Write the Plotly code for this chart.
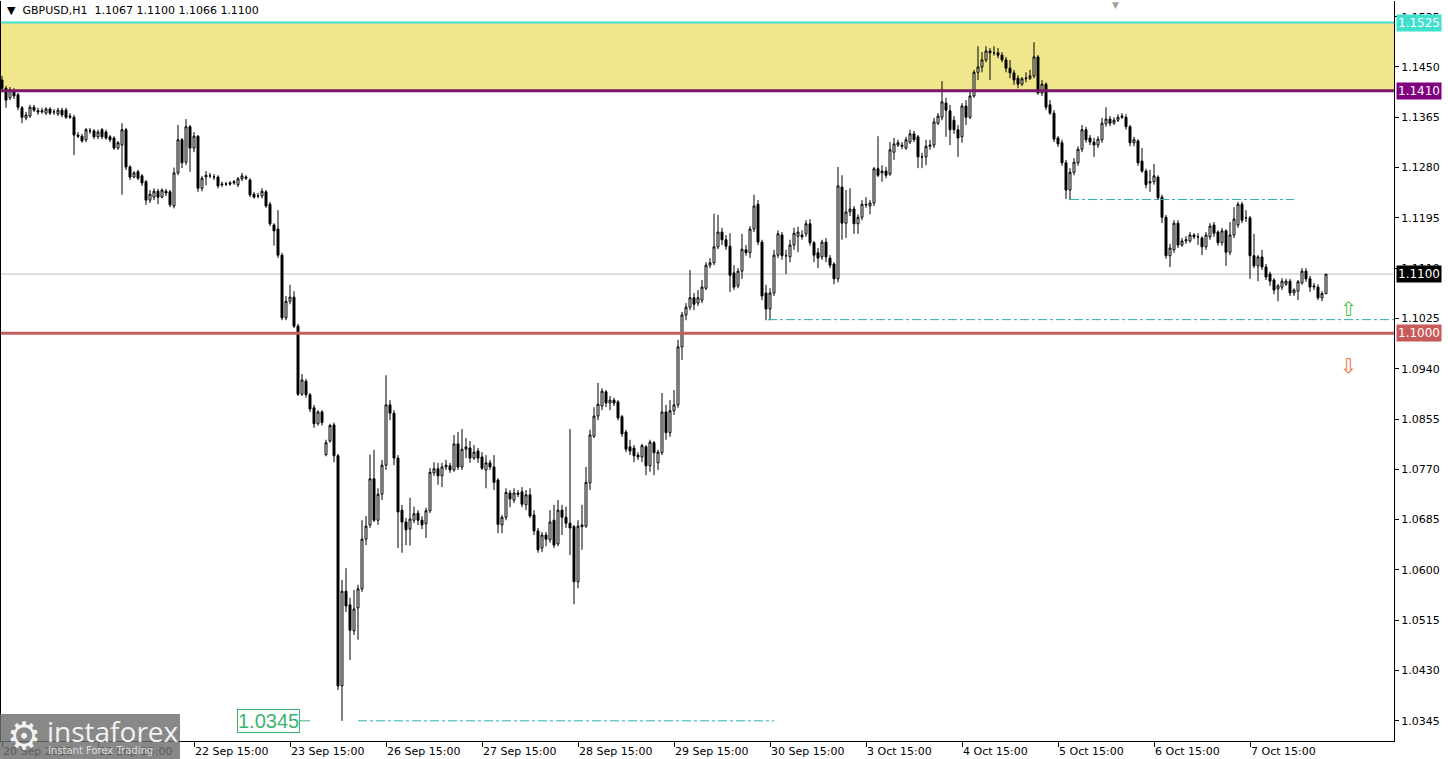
import plotly.graph_objects as go

# ---------------- data (prices in 1/10000 units) ----------------
open_pips = [
    11428, 11414, 11398, 11408, 11403, 11381, 11364, 11367, 11382, 11376, 11374, 11372,
    11379, 11374, 11371, 11377, 11377, 11365, 11365, 11335, 11333, 11327, 11342, 11342,
    11332, 11344, 11340, 11332, 11330, 11313, 11318, 11344, 11281, 11264, 11273, 11266,
    11256, 11225, 11230, 11240, 11230, 11240, 11239, 11215, 11271, 11327, 11289, 11349,
    11313, 11333, 11245, 11264, 11266, 11264, 11264, 11251, 11252, 11252, 11254, 11251,
    11261, 11264, 11259, 11235, 11232, 11232, 11239, 11218, 11183, 11176, 11132, 11026,
    11054, 11061, 11012, 10897, 10919, 10896, 10874, 10847, 10867, 10795, 10818, 10845,
    10793, 10404, 10564, 10541, 10497, 10536, 10568, 10652, 10676, 10754, 10684, 10728,
    10777, 10879, 10865, 10789, 10701, 10681, 10669, 10684, 10696, 10684, 10678, 10700,
    10764, 10771, 10759, 10774, 10776, 10769, 10813, 10774, 10804, 10806, 10789, 10801,
    10791, 10769, 10781, 10774, 10752, 10676, 10689, 10730, 10718, 10730, 10732, 10710,
    10727, 10693, 10666, 10637, 10659, 10651, 10684, 10644, 10701, 10689, 10679, 10673,
    10580, 10673, 10674, 10747, 10826, 10860, 10877, 10901, 10882, 10887, 10884, 10859,
    10833, 10808, 10806, 10794, 10791, 10808, 10776, 10815, 10781, 10798, 10867, 10832,
    10869, 10879, 10977, 11031, 11044, 11060, 11051, 11056, 11076, 11115, 11119, 11146,
    11171, 11158, 11147, 11102, 11080, 11105, 11141, 11136, 11176, 11218, 11154, 11068,
    11041, 11068, 11132, 11166, 11131, 11129, 11149, 11164, 11166, 11168, 11185, 11153,
    11136, 11129, 11154, 11127, 11117, 11092, 11247, 11186, 11205, 11210, 11185, 11196,
    11218, 11215, 11220, 11278, 11271, 11274, 11269, 11306, 11318, 11318, 11313, 11323,
    11337, 11332, 11298, 11298, 11316, 11318, 11355, 11365, 11389, 11376, 11360, 11344,
    11332, 11384, 11365, 11401, 11441, 11450, 11462, 11477, 11474, 11474, 11470, 11462,
    11448, 11440, 11431, 11421, 11430, 11431, 11435, 11467, 11406, 11421, 11386, 11372,
    11330, 11322, 11288, 11242, 11272, 11288, 11311, 11344, 11330, 11323, 11318, 11327,
    11354, 11362, 11355, 11360, 11365, 11365, 11349, 11322, 11325, 11291, 11274, 11254,
    11256, 11264, 11230, 11196, 11131, 11141, 11186, 11149, 11156, 11156, 11166, 11163,
    11161, 11146, 11163, 11183, 11171, 11153, 11173, 11137, 11166, 11183, 11218, 11195,
    11195, 11131, 11114, 11129, 11112, 11100, 11090, 11075, 11078, 11083, 11088, 11068,
    11071, 11085, 11105, 11092, 11078, 11078, 11060, 11067,
]
high_pips = [
    11435, 11418, 11416, 11414, 11406, 11384, 11374, 11386, 11386, 11381, 11381, 11382,
    11382, 11379, 11381, 11381, 11381, 11372, 11369, 11340, 11337, 11347, 11347, 11345,
    11344, 11347, 11344, 11335, 11333, 11325, 11355, 11347, 11284, 11274, 11276, 11269,
    11259, 11242, 11245, 11244, 11245, 11244, 11242, 11280, 11352, 11330, 11362, 11352,
    11340, 11335, 11266, 11274, 11271, 11269, 11267, 11256, 11256, 11257, 11259, 11264,
    11271, 11267, 11262, 11239, 11237, 11245, 11242, 11222, 11186, 11208, 11136, 11063,
    11082, 11071, 11016, 10931, 10923, 10899, 10879, 10870, 10870, 10820, 10847, 10849,
    10796, 10583, 10603, 10553, 10566, 10575, 10684, 10691, 10795, 10803, 10738, 10786,
    10929, 10887, 10870, 10794, 10710, 10688, 10722, 10707, 10701, 10691, 10705, 10772,
    10782, 10781, 10781, 10786, 10781, 10828, 10833, 10838, 10823, 10818, 10811, 10806,
    10799, 10794, 10786, 10794, 10755, 10693, 10738, 10735, 10738, 10735, 10740, 10735,
    10738, 10701, 10671, 10664, 10664, 10701, 10710, 10718, 10710, 10707, 10838, 10676,
    10684, 10710, 10774, 10837, 10875, 10916, 10907, 10904, 10894, 10891, 10887, 10862,
    10837, 10820, 10811, 10799, 10813, 10811, 10820, 10818, 10803, 10899, 10879, 10887,
    10904, 10989, 11036, 11051, 11107, 11068, 11073, 11090, 11120, 11127, 11202, 11200,
    11178, 11166, 11169, 11115, 11110, 11168, 11149, 11181, 11234, 11225, 11158, 11082,
    11076, 11141, 11174, 11171, 11141, 11158, 11178, 11180, 11174, 11191, 11193, 11156,
    11144, 11158, 11161, 11132, 11120, 11281, 11267, 11242, 11245, 11215, 11201, 11225,
    11230, 11225, 11281, 11333, 11284, 11281, 11323, 11330, 11327, 11323, 11332, 11344,
    11342, 11335, 11305, 11327, 11327, 11364, 11372, 11426, 11398, 11386, 11367, 11352,
    11389, 11394, 11408, 11445, 11485, 11475, 11485, 11482, 11485, 11482, 11475, 11467,
    11462, 11445, 11436, 11433, 11441, 11445, 11492, 11470, 11428, 11424, 11394, 11377,
    11333, 11327, 11293, 11279, 11296, 11316, 11352, 11349, 11335, 11330, 11333, 11364,
    11382, 11367, 11365, 11370, 11372, 11370, 11352, 11332, 11328, 11313, 11278, 11276,
    11286, 11267, 11234, 11200, 11151, 11191, 11191, 11161, 11164, 11171, 11169, 11169,
    11164, 11171, 11186, 11188, 11174, 11178, 11176, 11188, 11213, 11222, 11222, 11208,
    11198, 11168, 11132, 11141, 11117, 11104, 11093, 11083, 11093, 11092, 11092, 11076,
    11090, 11110, 11110, 11097, 11085, 11083, 11071, 11100,
]
low_pips = [
    11409, 11381, 11394, 11396, 11377, 11355, 11360, 11364, 11374, 11369, 11371, 11369,
    11369, 11369, 11367, 11365, 11362, 11362, 11301, 11330, 11322, 11323, 11337, 11328,
    11328, 11328, 11327, 11323, 11310, 11310, 11234, 11276, 11259, 11262, 11259, 11249,
    11217, 11220, 11225, 11218, 11228, 11232, 11213, 11211, 11267, 11279, 11284, 11273,
    11306, 11239, 11240, 11250, 11262, 11259, 11245, 11247, 11249, 11249, 11251, 11247,
    11257, 11259, 11230, 11228, 11228, 11228, 11212, 11181, 11148, 11127, 11022, 11022,
    11049, 11009, 10894, 10894, 10891, 10867, 10840, 10844, 10844, 10792, 10815, 10782,
    10397, 10345, 10529, 10448, 10490, 10482, 10563, 10642, 10671, 10681, 10676, 10718,
    10769, 10853, 10777, 10637, 10629, 10642, 10641, 10679, 10676, 10669, 10654, 10696,
    10759, 10744, 10740, 10769, 10764, 10766, 10769, 10769, 10789, 10781, 10786, 10781,
    10769, 10738, 10769, 10735, 10662, 10662, 10684, 10706, 10713, 10723, 10706, 10701,
    10688, 10659, 10629, 10630, 10640, 10646, 10637, 10640, 10659, 10671, 10625, 10542,
    10569, 10634, 10671, 10735, 10823, 10853, 10870, 10875, 10870, 10877, 10853, 10825,
    10799, 10794, 10782, 10786, 10782, 10760, 10766, 10760, 10769, 10794, 10820, 10825,
    10862, 10874, 10955, 11022, 11039, 11039, 11046, 11051, 11073, 11110, 11115, 11142,
    11149, 11141, 11070, 11073, 11076, 11092, 11131, 11127, 11171, 11149, 11056, 11022,
    11022, 11063, 11127, 11124, 11100, 11120, 11141, 11137, 11158, 11163, 11148, 11120,
    11110, 11124, 11120, 11110, 11083, 11086, 11158, 11161, 11198, 11168, 11168, 11191,
    11212, 11201, 11215, 11264, 11256, 11262, 11266, 11293, 11315, 11311, 11310, 11320,
    11323, 11279, 11279, 11284, 11310, 11313, 11352, 11360, 11332, 11318, 11337, 11298,
    11322, 11352, 11362, 11398, 11428, 11441, 11458, 11428, 11469, 11465, 11458, 11441,
    11431, 11420, 11414, 11418, 11424, 11428, 11431, 11403, 11401, 11377, 11369, 11323,
    11315, 11283, 11227, 11225, 11267, 11283, 11306, 11322, 11318, 11298, 11313, 11322,
    11349, 11350, 11352, 11357, 11362, 11344, 11316, 11316, 11283, 11271, 11245, 11239,
    11251, 11225, 11186, 11126, 11112, 11136, 11144, 11146, 11151, 11153, 11159, 11149,
    11132, 11141, 11158, 11163, 11148, 11148, 11114, 11132, 11161, 11178, 11186, 11188,
    11092, 11110, 11088, 11107, 11090, 11080, 11066, 11054, 11073, 11080, 11063, 11063,
    11056, 11082, 11087, 11070, 11073, 11056, 11054, 11066,
]
close_pips = [
    11414, 11394, 11411, 11401, 11382, 11365, 11369, 11382, 11377, 11374, 11376, 11379,
    11372, 11374, 11377, 11369, 11365, 11367, 11335, 11333, 11325, 11344, 11342, 11332,
    11340, 11332, 11330, 11327, 11313, 11322, 11344, 11281, 11264, 11271, 11262, 11254,
    11225, 11235, 11240, 11230, 11242, 11237, 11217, 11271, 11327, 11288, 11349, 11313,
    11333, 11245, 11262, 11267, 11266, 11264, 11249, 11252, 11252, 11254, 11256, 11261,
    11266, 11262, 11234, 11230, 11232, 11240, 11215, 11185, 11173, 11132, 11026, 11054,
    11061, 11012, 10897, 10921, 10896, 10872, 10847, 10867, 10849, 10815, 10844, 10793,
    10404, 10564, 10539, 10498, 10534, 10568, 10652, 10674, 10754, 10684, 10728, 10777,
    10879, 10865, 10789, 10698, 10681, 10668, 10686, 10695, 10684, 10676, 10700, 10765,
    10771, 10759, 10774, 10777, 10769, 10813, 10774, 10804, 10808, 10789, 10799, 10789,
    10772, 10781, 10774, 10748, 10677, 10689, 10731, 10720, 10730, 10728, 10711, 10727,
    10691, 10666, 10634, 10659, 10652, 10681, 10642, 10701, 10689, 10679, 10671, 10580,
    10674, 10676, 10748, 10828, 10860, 10880, 10902, 10882, 10887, 10882, 10857, 10830,
    10804, 10801, 10793, 10791, 10810, 10776, 10816, 10798, 10799, 10867, 10832, 10869,
    10879, 10977, 11031, 11044, 11060, 11049, 11060, 11078, 11115, 11119, 11146, 11171,
    11158, 11147, 11098, 11078, 11105, 11142, 11136, 11176, 11215, 11154, 11063, 11041,
    11068, 11132, 11168, 11131, 11131, 11149, 11169, 11171, 11163, 11185, 11153, 11132,
    11127, 11154, 11129, 11115, 11092, 11249, 11186, 11205, 11210, 11185, 11196, 11218,
    11217, 11220, 11278, 11267, 11274, 11267, 11310, 11320, 11322, 11316, 11327, 11337,
    11327, 11298, 11298, 11316, 11318, 11357, 11367, 11391, 11377, 11344, 11344, 11330,
    11384, 11365, 11401, 11441, 11450, 11462, 11477, 11474, 11474, 11470, 11462, 11448,
    11440, 11428, 11421, 11430, 11431, 11435, 11467, 11406, 11421, 11382, 11372, 11328,
    11320, 11288, 11242, 11272, 11289, 11311, 11344, 11327, 11323, 11318, 11328, 11355,
    11362, 11355, 11360, 11365, 11367, 11349, 11322, 11327, 11288, 11274, 11251, 11256,
    11266, 11229, 11196, 11131, 11144, 11186, 11149, 11156, 11158, 11166, 11163, 11163,
    11146, 11166, 11181, 11169, 11153, 11173, 11137, 11166, 11193, 11218, 11191, 11195,
    11131, 11114, 11129, 11112, 11095, 11088, 11073, 11080, 11088, 11088, 11068, 11073,
    11087, 11105, 11092, 11078, 11080, 11060, 11067, 11100,
]

x_tick_bars = [0, 24, 48, 72, 96, 120, 144, 168, 192, 216, 240, 264, 288, 312]
x_tick_text = ["20 Sep 2022", "21 Sep 15:00", "22 Sep 15:00", "23 Sep 15:00",
               "26 Sep 15:00", "27 Sep 15:00", "28 Sep 15:00", "29 Sep 15:00",
               "30 Sep 15:00", "3 Oct 15:00", "4 Oct 15:00", "5 Oct 15:00",
               "6 Oct 15:00", "7 Oct 15:00"]
y_tick_values = [1.0345, 1.0430, 1.0515, 1.0600, 1.0685, 1.0770, 1.0855, 1.0940,
                 1.1025, 1.1110, 1.1195, 1.1280, 1.1365, 1.1450, 1.1535]

zone_low, zone_high = 1.1410, 1.1525
bid_price = 1.1100
support_price = 1.1000
low_mark = 1.0345
dash_levels = [(1.0345, 89, 193), (1.1023, 191.5, 348), (1.1226, 267, 323)]
title_text = "▼  GBPUSD,H1  1.1067 1.1100 1.1066 1.1100"

# ---------------- figure ----------------
o = [v / 10000 for v in open_pips]
h = [v / 10000 for v in high_pips]
l = [v / 10000 for v in low_pips]
c = [v / 10000 for v in close_pips]
idx = list(range(len(c)))

W, H = 1448, 759
ML, MR, MT, MB = 1, 54, 1, 18
PW, PH = W - ML - MR, H - MT - MB

def px(xp):
    return (xp - ML) / PW

def py(yp):
    return (H - MB - yp) / PH

FONT = "DejaVu Sans"

fig = go.Figure()
fig.add_trace(go.Candlestick(
    x=idx, open=o, high=h, low=l, close=c,
    increasing=dict(line=dict(color="black", width=1), fillcolor="white"),
    decreasing=dict(line=dict(color="black", width=1), fillcolor="black"),
    whiskerwidth=0, showlegend=False, hoverinfo="skip",
))

shapes = []
shapes.append(dict(type="rect", xref="paper", yref="y", x0=0, x1=1, y0=zone_low, y1=zone_high,
                   fillcolor="#F0E68C", line=dict(width=0), layer="below"))
shapes.append(dict(type="line", xref="paper", yref="y", x0=0, x1=1, y0=bid_price, y1=bid_price,
                   line=dict(color="#C0C0C0", width=1), layer="below"))
shapes.append(dict(type="line", xref="paper", yref="y", x0=0, x1=1, y0=zone_high, y1=zone_high,
                   line=dict(color="#40E0D0", width=2), layer="above"))
shapes.append(dict(type="line", xref="paper", yref="y", x0=0, x1=1, y0=zone_low, y1=zone_low,
                   line=dict(color="#7A1766", width=3), layer="above"))
shapes.append(dict(type="line", xref="paper", yref="y", x0=0, x1=1, y0=support_price, y1=support_price,
                   line=dict(color="#C06060", width=3), layer="above"))
for lvl, xa, xb in dash_levels:
    shapes.append(dict(type="line", xref="x", yref="y", x0=xa, x1=xb, y0=lvl, y1=lvl,
                       line=dict(color="#2FB0B0", width=1, dash="dashdot"), layer="above"))
# small tick next to 1.0345 label
shapes.append(dict(type="line", xref="x", yref="y", x0=74.5, x1=77, y0=low_mark, y1=low_mark,
                   line=dict(color="#3CB371", width=1), layer="above"))
# instaforex logo box
shapes.append(dict(type="rect", xref="paper", yref="paper", x0=px(0), x1=px(180), y0=py(759), y1=py(714),
                   fillcolor="rgba(110,110,110,0.82)", line=dict(width=0), layer="above"))

annotations = []
annotations.append(dict(xref="paper", yref="paper", x=px(5), y=py(11), xanchor="left", yanchor="middle",
                        text=title_text, showarrow=False, font=dict(family=FONT, size=11, color="black")))
annotations.append(dict(xref="paper", yref="paper", x=px(1115), y=py(5), xanchor="center", yanchor="middle",
                        text="▼", showarrow=False, font=dict(family=FONT, size=9, color="#A0A0A0")))
# right-side colored price labels
for lvl, col, txt in [(zone_high, "#40E0D0", "1.1525"), (zone_low, "#800080", "1.1410"),
                      (bid_price, "#000000", "1.1100"), (support_price, "#C85A5A", "1.1000")]:
    annotations.append(dict(xref="paper", yref="y", x=1, y=lvl, xanchor="left", yanchor="middle",
                            xshift=2, text=txt, showarrow=False, bgcolor=col, borderpad=1,
                            font=dict(family=FONT, size=12, color="white")))
# low price label
annotations.append(dict(xref="x", yref="y", x=66.6, y=low_mark, xanchor="center", yanchor="middle",
                        text="1.0345", showarrow=False, bgcolor="white", bordercolor="#3CB371",
                        borderwidth=1, borderpad=0,
                        font=dict(family="Liberation Sans", size=20, color="#3CB371")))
# arrows
annotations.append(dict(xref="x", yref="y", x=336.7, y=1.1041, text="⇧", showarrow=False,
                        font=dict(family=FONT, size=20, color="#4CC04C")))
annotations.append(dict(xref="x", yref="y", x=336.7, y=1.0945, text="⇩", showarrow=False,
                        font=dict(family=FONT, size=20, color="#E8743B")))
# logo
annotations.append(dict(xref="paper", yref="paper", x=px(24), y=py(736), xanchor="center", yanchor="middle",
                        text="⚙", showarrow=False, font=dict(family=FONT, size=38, color="#F2F2F2")))
annotations.append(dict(xref="paper", yref="paper", x=px(45), y=py(731), xanchor="left", yanchor="middle",
                        text="instaforex", showarrow=False, font=dict(family="Open Sans", size=28, color="#F2F2F2")))
annotations.append(dict(xref="paper", yref="paper", x=px(46), y=py(750), xanchor="left", yanchor="middle",
                        text="Instant Forex Trading", showarrow=False, font=dict(family=FONT, size=10, color="#DDDDDD")))

fig.update_layout(
    width=W, height=H,
    margin=dict(l=ML, r=MR, t=MT, b=MB, autoexpand=False),
    paper_bgcolor="white", plot_bgcolor="white",
    shapes=shapes, annotations=annotations,
    showlegend=False,
    xaxis=dict(range=[-0.25, 348], rangeslider=dict(visible=False),
               tickmode="array", tickvals=x_tick_bars, ticktext=x_tick_text,
               ticks="outside", ticklen=5, tickcolor="black",
               ticklabelposition="outside right",
               showline=True, linecolor="black", linewidth=1, mirror=False,
               showgrid=False, zeroline=False,
               tickfont=dict(family=FONT, size=11, color="black")),
    yaxis=dict(range=[1.03109, 1.15615], side="right",
               tickmode="array", tickvals=y_tick_values,
               ticktext=[f"{v:.4f}" for v in y_tick_values],
               ticks="outside", ticklen=4, tickcolor="black",
               showline=True, linecolor="black", linewidth=1, mirror=True,
               showgrid=False, zeroline=False,
               tickfont=dict(family=FONT, size=11, color="black")),
)

fig.write_html("out.html", config={"displayModeBar": False},
               post_script="document.body.style.margin='0px';document.body.style.overflow='hidden';")
